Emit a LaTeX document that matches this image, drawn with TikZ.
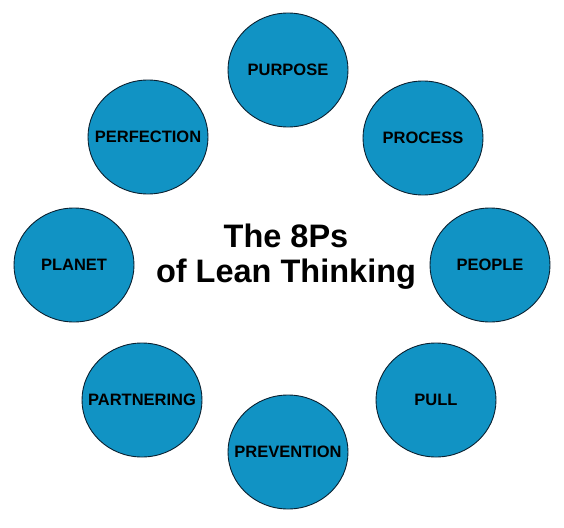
\documentclass[tikz,border=0pt]{standalone}
\usepackage{fontspec}
\setmainfont{Liberation Sans}
\usetikzlibrary{shapes.geometric}
\definecolor{pblue}{HTML}{1193C4}
\definecolor{pedge}{HTML}{0A2030}
\newcommand{\pz}[1]{\makebox[0pt][c]{#1}}
\tikzset{
  pcircle/.style={ellipse, draw=pedge, line width=0.9pt, fill=pblue,
    minimum width=120pt, minimum height=114pt, inner sep=0pt,
    font=\fontsize{16.5}{18}\selectfont\bfseries, text=black},
  ptitle/.style={align=center, font=\fontsize{32.5}{35}\selectfont\bfseries, text=black, inner sep=0pt}
}
\begin{document}
\begin{tikzpicture}[x=1pt,y=-1pt]
\useasboundingbox (0,0) rectangle (564,527);
\node[pcircle] (purpose) at (288,70) {\pz{PURPOSE}};
\node[pcircle] (process) at (423,138) {\pz{PROCESS}};
\node[pcircle] (people) at (490,265) {\pz{PEOPLE}};
\node[pcircle] (pull) at (436,400) {\pz{PULL}};
\node[pcircle] (prevention) at (288,452) {\pz{PREVENTION}};
\node[pcircle] (partnering) at (142,400) {\pz{PARTNERING}};
\node[pcircle] (planet) at (74,265) {\pz{PLANET}};
\node[pcircle] (perfection) at (148,137) {\pz{PERFECTION}};
\node[ptitle] (title) at (286,257) {The 8Ps\\of Lean Thinking};
\end{tikzpicture}
\end{document}
